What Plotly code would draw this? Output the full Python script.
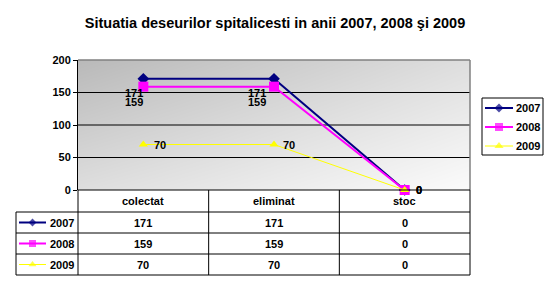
import plotly.graph_objects as go

# ---- data ----
categories = ["colectat", "eliminat", "stoc"]
series_names = ["2007", "2008", "2009"]
values_2007 = [171, 171, 0]
values_2008 = [159, 159, 0]
values_2009 = [70, 70, 0]
y_ticks = [0, 50, 100, 150, 200]
title_text = "Situatia deseurilor spitalicesti in anii 2007, 2008 şi 2009"

series_values = [values_2007, values_2008, values_2009]
colors = ["#000080", "#FF00FF", "#FFFF00"]
symbols = ["diamond", "square", "triangle-up"]
msizes = [9, 10, 8]
lwidths = [2, 2, 1]
# label offsets (px) per series per point
label_dx = [[-9, -17, 14], [-9, -17, 14], [17, 15, 14]]
label_dy = [[14, 14, 0], [15, 15, 0], [0, 0, 0]]

W, H = 553, 289
FONT = "Liberation Sans, Arial, sans-serif"
PX0, PX1, PY0, PY1 = 78, 470, 60, 190


def px(x):
    return x / W


def py(y):
    return 1 - y / H


fig = go.Figure()

# gradient background (decoration) on hidden axes x/y (drawn first)
fig.add_trace(go.Heatmap(
    x=[-0.5, 2.5], y=[0, 200],
    z=[[0.55, 1.0], [0.0, 0.55]],
    zsmooth="best", showscale=False, hoverinfo="skip",
    colorscale=[[0, "#b9b9b9"], [0.55, "#dedede"], [1, "#fbfbfb"]],
    xaxis="x", yaxis="y",
))

# horizontal gridlines (interior ticks) as a trace on the data axes, under the series
gx, gy = [], []
for t in y_ticks[1:-1]:
    gx += [-0.5, 2.5, None]
    gy += [t, t, None]
fig.add_trace(go.Scatter(x=gx, y=gy, mode="lines", line=dict(color="black", width=1),
                         xaxis="x3", yaxis="y3", showlegend=False, hoverinfo="skip"))

# data traces on x3/y3
for name, vals, c, s, ms, lw in zip(series_names, series_values, colors, symbols, msizes, lwidths):
    fig.add_trace(go.Scatter(
        x=list(range(len(categories))), y=vals, name=name, mode="lines+markers",
        line=dict(color=c, width=lw),
        marker=dict(symbol=s, size=ms, color=c, line=dict(width=0)),
        cliponaxis=False, xaxis="x3", yaxis="y3", showlegend=False,
    ))

annotations = []
for si, vals in enumerate(series_values):
    for ci, v in enumerate(vals):
        annotations.append(dict(
            x=ci, y=v, xref="x3", yref="y3", text=str(v), showarrow=False,
            xanchor="center", yanchor="middle",
            xshift=label_dx[si][ci], yshift=-label_dy[si][ci],
            font=dict(family=FONT, size=11, color="black", weight="bold"),
        ))

shapes = []
shapes.append(dict(type="line", xref="paper", yref="paper", x0=px(PX0), x1=px(PX1), y0=py(PY0), y1=py(PY0),
                   line=dict(color="#808080", width=1.5)))
shapes.append(dict(type="line", xref="paper", yref="paper", x0=px(PX1), x1=px(PX1), y0=py(PY0), y1=py(PY1),
                   line=dict(color="#808080", width=1.5)))

# ---- data table below ----
TX0 = 16
row_y = [PY1, 212, 233, 254, 275]
col_w = (PX1 - PX0) / len(categories)
col_x = [PX0 + i * col_w for i in range(len(categories) + 1)]
black = dict(color="black", width=1)
shapes.append(dict(type="line", xref="paper", yref="paper", x0=px(PX0), x1=px(PX1), y0=py(row_y[0]), y1=py(row_y[0]), line=black))
for yy in row_y[1:]:
    shapes.append(dict(type="line", xref="paper", yref="paper", x0=px(TX0), x1=px(PX1), y0=py(yy), y1=py(yy), line=black))
for xx in col_x:
    shapes.append(dict(type="line", xref="paper", yref="paper", x0=px(xx), x1=px(xx), y0=py(row_y[0]), y1=py(row_y[-1]), line=black))
shapes.append(dict(type="line", xref="paper", yref="paper", x0=px(TX0), x1=px(TX0), y0=py(row_y[1]), y1=py(row_y[-1]), line=black))

tfont = dict(family=FONT, size=11, color="black", weight="bold")
for ci, cat in enumerate(categories):
    annotations.append(dict(x=px((col_x[ci] + col_x[ci + 1]) / 2), y=py((row_y[0] + row_y[1]) / 2),
                            xref="paper", yref="paper", text=cat, showarrow=False,
                            xanchor="center", yanchor="middle", font=tfont))
for si, (name, vals) in enumerate(zip(series_names, series_values)):
    yc = py((row_y[si + 1] + row_y[si + 2]) / 2)
    for ci, v in enumerate(vals):
        annotations.append(dict(x=px((col_x[ci] + col_x[ci + 1]) / 2), y=yc,
                                xref="paper", yref="paper", text=str(v), showarrow=False,
                                xanchor="center", yanchor="middle", font=tfont))
    annotations.append(dict(x=px(76), y=yc, xref="paper", yref="paper", text=name, showarrow=False,
                            xanchor="right", yanchor="middle", font=tfont))

# table keys (line + marker)
key_x = [19, 46]
key_y = [(row_y[i + 1] + row_y[i + 2]) / 2 for i in range(3)]
for si, (c, lw) in enumerate(zip(colors, lwidths)):
    shapes.append(dict(type="line", xref="paper", yref="paper", x0=px(key_x[0]), x1=px(key_x[1]),
                       y0=py(key_y[si]), y1=py(key_y[si]), line=dict(color=c, width=lw)))

# ---- legend box (right) ----
LX0, LX1, LY0, LY1 = 482, 543, 98, 155
leg_y = [108, 127, 146]
leg_line = [485, 513]
shapes.append(dict(type="rect", xref="paper", yref="paper", x0=px(LX0), x1=px(LX1), y0=py(LY0), y1=py(LY1),
                   line=dict(color="black", width=1), fillcolor="white", layer="below"))
for si, (name, c, lw) in enumerate(zip(series_names, colors, lwidths)):
    shapes.append(dict(type="line", xref="paper", yref="paper", x0=px(leg_line[0]), x1=px(leg_line[1]),
                       y0=py(leg_y[si]), y1=py(leg_y[si]), line=dict(color=c, width=lw)))
    annotations.append(dict(x=px(514), y=py(leg_y[si]), xref="paper", yref="paper", text=name,
                            showarrow=False, xanchor="left", yanchor="middle", font=tfont))

fig.add_trace(go.Scatter(
    x=[32.5] * 3 + [499] * 3, y=key_y + leg_y,
    mode="markers", xaxis="x2", yaxis="y2", showlegend=False, hoverinfo="skip",
    marker=dict(symbol=symbols * 2, size=[6, 7, 7, 7, 8, 8], color=colors * 2, line=dict(width=0)),
))

fig.update_layout(
    width=W, height=H,
    margin=dict(l=0, r=0, t=0, b=0, pad=0, autoexpand=False),
    paper_bgcolor="white", plot_bgcolor="rgba(0,0,0,0)",
    font=dict(family=FONT, size=11, color="black", weight="bold"),
    title=dict(text=title_text, x=px(275), xanchor="center", y=py(23), yanchor="middle",
               font=dict(family=FONT, size=14.5, color="black", weight="bold")),
    xaxis=dict(domain=[px(PX0), px(PX1)], range=[-0.5, 2.5], visible=False, fixedrange=True, anchor="y"),
    yaxis=dict(domain=[py(PY1), py(PY0)], range=[0, 200], visible=False, fixedrange=True, anchor="x"),
    xaxis2=dict(domain=[0, 1], range=[0, W], visible=False, fixedrange=True, anchor="y2"),
    yaxis2=dict(domain=[0, 1], range=[H, 0], visible=False, fixedrange=True, anchor="x2"),
    xaxis3=dict(domain=[px(PX0), px(PX1)], range=[-0.5, 2.5], showgrid=False, zeroline=False,
                showticklabels=False, ticks="", showline=False, fixedrange=True, anchor="y3"),
    yaxis3=dict(domain=[py(PY1), py(PY0)], range=[0, 200], tickvals=y_ticks, anchor="x3",
                showgrid=False, zeroline=False,
                showline=True, linecolor="black", linewidth=1,
                ticks="outside", ticklen=4, tickcolor="black", fixedrange=True,
                tickfont=dict(family=FONT, size=11, color="black", weight="bold")),
    shapes=shapes,
    annotations=annotations,
    showlegend=False,
)

fig.write_html("out.html")
